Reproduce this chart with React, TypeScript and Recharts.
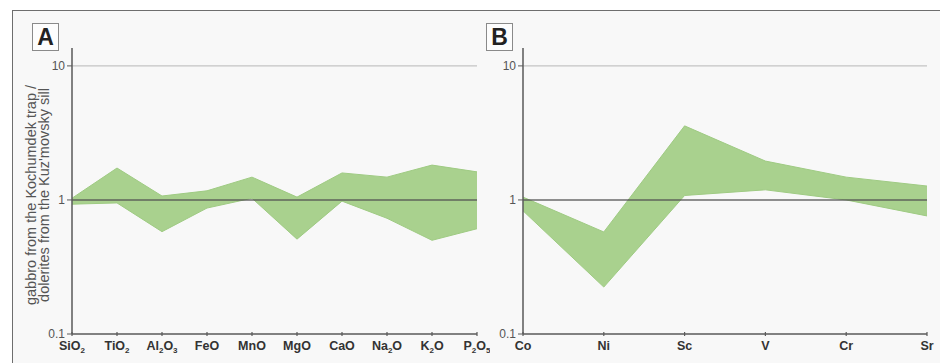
import { AreaChart, Area, XAxis, YAxis, ReferenceLine } from 'recharts';

// ratios gabbro (Kochumdek trap) / dolerites (Kuz'movsky sill)
const oxides = ['SiO2', 'TiO2', 'Al2O3', 'FeO', 'MnO', 'MgO', 'CaO', 'Na2O', 'K2O', 'P2O5'];
const oxideMin = [0.93, 0.95, 0.58, 0.87, 1.03, 0.51, 0.98, 0.73, 0.5, 0.61];
const oxideMax = [1.03, 1.73, 1.07, 1.17, 1.48, 1.05, 1.59, 1.48, 1.82, 1.62];

const traceElements = ['Co', 'Ni', 'Sc', 'V', 'Cr', 'Sr'];
const traceMin = [0.83, 0.224, 1.08, 1.19, 1.0, 0.76];
const traceMax = [1.05, 0.577, 3.57, 1.95, 1.48, 1.27];

const yTicks = [0.1, 1, 10];

const oxideData = oxides.map((name, i) => ({ name, range: [oxideMin[i], oxideMax[i]] }));
const traceData = traceElements.map((name, i) => ({ name, range: [traceMin[i], traceMax[i]] }));

const FONT = '"Liberation Sans", Arial, Helvetica, sans-serif';
const AXIS = '#5a5a5a';
const GREEN = '#a9d18e';

function ChemTick(props: any) {
  const { x, y, payload } = props;
  const parts: string[] = String(payload.value).split(/(\d+)/).filter(Boolean);
  let shifted = false;
  return (
    <g>
      <line x1={x} x2={x} y1={y} y2={y - 4} stroke={AXIS} strokeWidth={1.2} />
      <text x={x} y={y + 14} textAnchor="middle" fontFamily={FONT} fontWeight="bold" fill="#333">
        {parts.map((p, i) => {
          if (/^\d+$/.test(p)) {
            shifted = true;
            return (
              <tspan key={i} fontSize={8} dy={3}>
                {p}
              </tspan>
            );
          }
          const dy = shifted ? -3 : 0;
          shifted = false;
          return (
            <tspan key={i} fontSize={12.5} dy={dy}>
              {p}
            </tspan>
          );
        })}
      </text>
    </g>
  );
}

function Panel({ data, width, marginLeft }: { data: any[]; width: number; marginLeft: number }) {
  return (
    <AreaChart
      width={width}
      height={363}
      data={data}
      margin={{ top: 48, right: 13, bottom: 0, left: marginLeft }}
    >
      <XAxis
        dataKey="name"
        type="category"
        scale="point"
        padding={{ left: 0, right: 0 }}
        interval={0}
        height={29}
        tickSize={0}
        tickLine={false}
        axisLine={{ stroke: AXIS, strokeWidth: 1.5 }}
        tick={<ChemTick />}
      />
      <YAxis
        scale="log"
        domain={[0.1, 13.6]}
        allowDataOverflow
        ticks={yTicks}
        width={30}
        tickSize={5}
        tickLine={{ stroke: AXIS }}
        axisLine={{ stroke: AXIS, strokeWidth: 1.5 }}
        tick={{ fill: '#555', fontSize: 12, fontFamily: FONT }}
        tickFormatter={(v: number) => String(v)}
      />
      <ReferenceLine y={10} stroke="#c4c4c4" strokeWidth={1.2} />
      <Area
        type="linear"
        dataKey="range"
        fill={GREEN}
        fillOpacity={1}
        stroke="#9fcb83"
        strokeWidth={1}
        isAnimationActive={false}
        dot={false}
        activeDot={false}
      />
      <ReferenceLine y={1} stroke="#505050" strokeOpacity={0.85} strokeWidth={1.4} />
    </AreaChart>
  );
}

function PanelTag({ x, letter }: { x: number; letter: string }) {
  return (
    <div
      style={{
        position: 'absolute',
        left: x,
        top: 23,
        width: 25,
        height: 26,
        border: '1px solid #8a8a8a',
        background: '#fdfdfd',
        fontFamily: FONT,
        fontWeight: 'bold',
        fontSize: 23,
        lineHeight: '26px',
        textAlign: 'center',
        color: '#222',
      }}
    >
      {letter}
    </div>
  );
}

export default function App() {
  return (
    <div style={{ position: 'absolute', left: 0, top: 0, width: 940, height: 363, background: '#fff', overflow: 'hidden' }}>
      <div
        style={{
          position: 'absolute',
          left: 12,
          top: 10,
          width: 940,
          height: 360,
          background: '#f8f8f8',
          borderLeft: '1.5px solid #6e6e6e',
          borderTop: '1.5px solid #6e6e6e',
        }}
      />
      <div style={{ position: 'absolute', left: 0, top: 0 }}>
        <Panel data={oxideData} width={490} marginLeft={42} />
      </div>
      <div style={{ position: 'absolute', left: 480, top: 0 }}>
        <Panel data={traceData} width={460} marginLeft={13} />
      </div>
      <svg width={60} height={363} style={{ position: 'absolute', left: 0, top: 0 }}>
        <g transform="translate(36,195) rotate(-90)">
          <text x={0} y={0} textAnchor="middle" fontFamily={FONT} fontSize={14.5} fill="#555">
            gabbro from the Kochumdek trap /
          </text>
          <text x={0} y={13} textAnchor="middle" fontFamily={FONT} fontSize={14.5} fill="#555">
            dolerites from the Kuz'movsky sill
          </text>
        </g>
      </svg>
      <PanelTag x={32} letter="A" />
      <PanelTag x={486} letter="B" />
    </div>
  );
}
